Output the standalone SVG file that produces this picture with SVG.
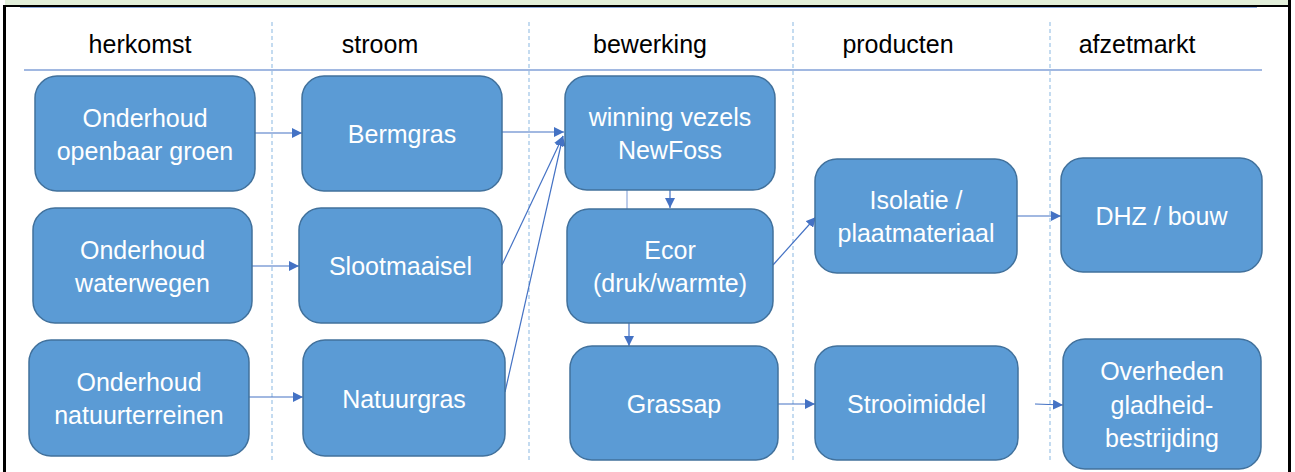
<svg xmlns="http://www.w3.org/2000/svg" width="1295" height="472" viewBox="0 0 1295 472">
<style>
.node rect{fill:#5B9BD5;stroke:#41719C;stroke-width:1.5}
.node text{fill:#FFFFFF;font-family:"Liberation Sans",Arial,sans-serif;font-size:25px;text-anchor:middle}
.hdr{fill:#000000;font-family:"Liberation Sans",Arial,sans-serif;font-size:25px;text-anchor:middle}
.dash{stroke:#9DC3E6;stroke-width:1.2;stroke-dasharray:4 3;fill:none}
.conn line{stroke:#4472C4;stroke-width:1.2;marker-end:url(#arr)}
</style>
<defs>
<marker id="arr" viewBox="0 0 10 10" refX="10" refY="5" markerWidth="10" markerHeight="10" markerUnits="userSpaceOnUse" orient="auto">
<path d="M0,0 L10,5 L0,10 Z" fill="#4472C4"/>
</marker>
</defs>
<rect x="0" y="0" width="1295" height="472" fill="#FFFFFF"/>
<rect x="5" y="0" width="1284" height="5" fill="#E2EFDA"/>
<rect x="5" y="5" width="1285" height="2" fill="#000000"/>
<rect x="3" y="5" width="3" height="467" fill="#000000"/>
<rect x="1288" y="0" width="3" height="472" fill="#000000"/>
<line x1="20" y1="7.5" x2="1257" y2="7.5" stroke="#8FAADC" stroke-width="1"/>
<line x1="24" y1="70" x2="1262" y2="70" stroke="#4472C4" stroke-width="1.2"/>
<g id="dividers">
<line class="dash" x1="272" y1="22" x2="272" y2="462"/>
<line class="dash" x1="529" y1="22" x2="529" y2="462"/>
<line class="dash" x1="793" y1="22" x2="793" y2="462"/>
<line class="dash" x1="1050" y1="22" x2="1050" y2="462"/>
</g>
<g id="headers">
<text class="hdr" x="140" y="53">herkomst</text>
<text class="hdr" x="380" y="53">stroom</text>
<text class="hdr" x="650" y="53">bewerking</text>
<text class="hdr" x="898" y="53">producten</text>
<text class="hdr" x="1137" y="53">afzetmarkt</text>
</g>
<g id="connectors">
<line x1="627" y1="190" x2="627" y2="209" stroke="#8FAADC" stroke-width="1.2"/>
<g class="conn">
<line x1="255" y1="133" x2="302" y2="133"/>
<line x1="252" y1="266" x2="299" y2="266"/>
<line x1="249" y1="397" x2="303" y2="397"/>
<line x1="502" y1="132" x2="564" y2="132"/>
<line x1="502" y1="265" x2="563" y2="136"/>
<line x1="505" y1="392" x2="563" y2="136"/>
<line x1="670" y1="190" x2="670" y2="208"/>
<line x1="629" y1="323" x2="629" y2="346"/>
<line x1="773" y1="265" x2="816" y2="217"/>
<line x1="1017" y1="216" x2="1061" y2="216"/>
<line x1="778" y1="404" x2="815" y2="404"/>
<line x1="1035" y1="404" x2="1063" y2="405"/>
</g>
</g>
<g id="n-openbaar" class="node"><rect x="35" y="76" width="220" height="115" rx="22"/><text x="145" y="127">Onderhoud</text><text x="145" y="160">openbaar groen</text></g>
<g id="n-waterwegen" class="node"><rect x="33" y="208" width="219" height="115" rx="22"/><text x="142.5" y="259">Onderhoud</text><text x="142.5" y="292">waterwegen</text></g>
<g id="n-natuur" class="node"><rect x="29" y="340" width="220" height="116" rx="22"/><text x="139" y="391">Onderhoud</text><text x="139" y="424">natuurterreinen</text></g>
<g id="n-bermgras" class="node"><rect x="302" y="76" width="200" height="115" rx="22"/><text x="402" y="143">Bermgras</text></g>
<g id="n-sloot" class="node"><rect x="299" y="208" width="203" height="115" rx="22"/><text x="400.5" y="275">Slootmaaisel</text></g>
<g id="n-natuurgras" class="node"><rect x="303" y="340" width="202" height="116" rx="22"/><text x="404" y="408">Natuurgras</text></g>
<g id="n-winning" class="node"><rect x="565" y="76" width="210" height="114" rx="22"/><text x="670" y="126">winning vezels</text><text x="670" y="159">NewFoss</text></g>
<g id="n-ecor" class="node"><rect x="567" y="209" width="206" height="114" rx="22"/><text x="670" y="259">Ecor</text><text x="670" y="292">(druk/warmte)</text></g>
<g id="n-grassap" class="node"><rect x="570" y="346" width="208" height="114" rx="22"/><text x="674" y="413">Grassap</text></g>
<g id="n-isolatie" class="node"><rect x="815" y="159" width="202" height="114" rx="22"/><text x="916" y="209">Isolatie /</text><text x="916" y="242">plaatmateriaal</text></g>
<g id="n-strooi" class="node"><rect x="815" y="346" width="203" height="114" rx="22"/><text x="916.5" y="413">Strooimiddel</text></g>
<g id="n-dhz" class="node"><rect x="1061" y="158" width="201" height="114" rx="22"/><text x="1161.5" y="225">DHZ / bouw</text></g>
<g id="n-overheden" class="node"><rect x="1063" y="339" width="198" height="130" rx="22"/><text x="1162" y="380">Overheden</text><text x="1162" y="414">gladheid-</text><text x="1162" y="447">bestrijding</text></g>
</svg>
